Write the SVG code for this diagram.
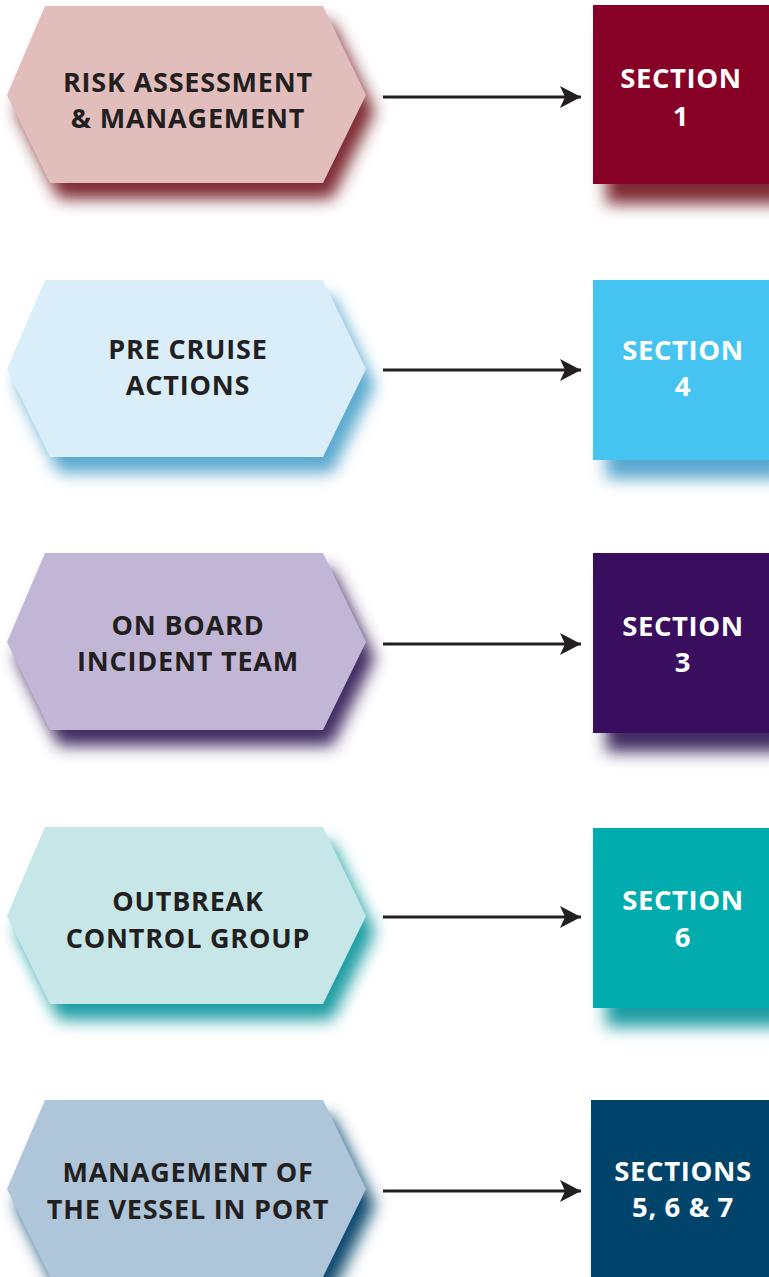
<svg xmlns="http://www.w3.org/2000/svg" width="769" height="1277" viewBox="0 0 769 1277">
<defs>
<filter id="blur" x="-20%" y="-20%" width="140%" height="140%"><feGaussianBlur stdDeviation="8"/></filter>
<marker id="ah" markerWidth="22" markerHeight="22" refX="21" refY="11" orient="auto" markerUnits="userSpaceOnUse"><path d="M0,0 L21,11 L0,22 L5,11 Z" fill="#231f20"/></marker>
<polygon id="hex" points="38,0 316,0 359,89 316,177 43,177 0,89"/>
</defs>
<style>
.t{font-family:"Open Sans","Noto Sans",sans-serif;font-weight:bold;font-size:27px;letter-spacing:0.8px;text-anchor:middle;fill:#231f20}
.s{font-family:"Open Sans","Noto Sans",sans-serif;font-weight:bold;font-size:27.5px;letter-spacing:0.6px;text-anchor:middle;fill:#ffffff}
.c line{stroke:#231f20;stroke-width:3;marker-end:url(#ah)}
.sh{filter:url(#blur)}
</style>
<rect width="769" height="1277" fill="#ffffff"/>
<g id="row1">
<g id="hex1"><use href="#hex" x="16" y="22" class="sh" fill="#7d2a33"/><use href="#hex" x="7" y="6" fill="#e1bdbc"/>
<text class="t" x="188" y="92">RISK ASSESSMENT</text><text class="t" x="188" y="128">&amp; MANAGEMENT</text></g>
<g id="sec1"><rect x="606" y="24" width="180" height="180" class="sh" fill="#7d2a33"/><rect x="593" y="5" width="180" height="179" fill="#870026"/>
<text class="s" x="681" y="88">SECTION</text><text class="s" x="681" y="126">1</text></g>
</g>
<g id="row2">
<g id="hex2"><use href="#hex" x="16" y="296" class="sh" fill="#5aa8cf"/><use href="#hex" x="7" y="280" fill="#d9eef9"/>
<text class="t" x="188" y="359">PRE CRUISE</text><text class="t" x="188" y="395">ACTIONS</text></g>
<g id="sec2"><rect x="606" y="299" width="180" height="180" class="sh" fill="#5aa8cf"/><rect x="593" y="280" width="180" height="180" fill="#45c4f1"/>
<text class="s" x="683" y="360">SECTION</text><text class="s" x="683" y="396">4</text></g>
</g>
<g id="row3">
<g id="hex3"><use href="#hex" x="16" y="569" class="sh" fill="#3f2c60"/><use href="#hex" x="7" y="553" fill="#c1b6d6"/>
<text class="t" x="188" y="635">ON BOARD</text><text class="t" x="188" y="671">INCIDENT TEAM</text></g>
<g id="sec3"><rect x="606" y="572" width="180" height="180" class="sh" fill="#3f2c60"/><rect x="593" y="553" width="180" height="180" fill="#390e5e"/>
<text class="s" x="683" y="636">SECTION</text><text class="s" x="683" y="672">3</text></g>
</g>
<g id="row4">
<g id="hex4"><use href="#hex" x="16" y="843" class="sh" fill="#1c9ea3"/><use href="#hex" x="7" y="827" fill="#c6e6e7"/>
<text class="t" x="188" y="911">OUTBREAK</text><text class="t" x="188" y="948">CONTROL GROUP</text></g>
<g id="sec4"><rect x="606" y="847" width="180" height="180" class="sh" fill="#1c9ea3"/><rect x="593" y="828" width="180" height="180" fill="#00acae"/>
<text class="s" x="683" y="910">SECTION</text><text class="s" x="683" y="947">6</text></g>
</g>
<g id="row5">
<g id="hex5"><use href="#hex" x="16" y="1116" class="sh" fill="#104a6e"/><use href="#hex" x="7" y="1100" fill="#afc5d9"/>
<text class="t" x="188" y="1182">MANAGEMENT OF</text><text class="t" x="188" y="1219">THE VESSEL IN PORT</text></g>
<g id="sec5"><rect x="604" y="1119" width="180" height="180" class="sh" fill="#104a6e"/><rect x="591" y="1100" width="180" height="180" fill="#00446b"/>
<text class="s" x="683" y="1181">SECTIONS</text><text class="s" x="683" y="1217">5, 6 &amp; 7</text></g>
</g>
<g id="connectors" class="c">
<line x1="383" y1="97" x2="581" y2="97"/>
<line x1="383" y1="370" x2="581" y2="370"/>
<line x1="383" y1="644" x2="581" y2="644"/>
<line x1="383" y1="917" x2="581" y2="917"/>
<line x1="383" y1="1191" x2="581" y2="1191"/>
</g>
</svg>
